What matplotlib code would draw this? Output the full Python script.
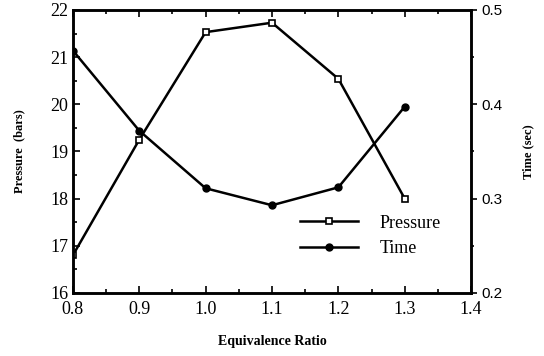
import matplotlib.pyplot as plt
from matplotlib.ticker import MultipleLocator

# equivalence ratio vs pressure and time
ratio = [0.8, 0.9, 1.0, 1.1, 1.2, 1.3]
pressure = [16.8, 19.25, 21.53, 21.73, 20.54, 18.0]
time_sec = [0.457, 0.372, 0.311, 0.293, 0.312, 0.3975]

serif = 'Liberation Serif'
sans = 'Liberation Sans'

fig = plt.figure(figsize=(5.44, 3.56), dpi=100)
ax = fig.add_axes([0.134, 0.177, 0.732, 0.795])
ax2 = ax.twinx()

l1, = ax.plot(ratio, pressure, color='black', lw=1.8, marker='s', ms=5,
              mfc='white', mec='black', mew=1.2, label='Pressure')
l2, = ax2.plot(ratio, time_sec, color='black', lw=1.8, marker='o', ms=5,
               mfc='black', mec='black', label='Time')

ax.set_xlim(0.8, 1.4)
ax.set_ylim(16, 22)
ax2.set_ylim(0.2, 0.5)

ax.xaxis.set_major_locator(MultipleLocator(0.1))
ax.xaxis.set_minor_locator(MultipleLocator(0.05))
ax.yaxis.set_major_locator(MultipleLocator(1))
ax.yaxis.set_minor_locator(MultipleLocator(0.5))
ax2.yaxis.set_major_locator(MultipleLocator(0.1))
ax2.yaxis.set_minor_locator(MultipleLocator(0.05))

ax.tick_params(axis='x', which='both', direction='in', top=True, width=1.2)
ax.tick_params(axis='x', which='major', length=5, pad=6)
ax.tick_params(axis='x', which='minor', length=3)
ax.tick_params(axis='y', which='both', direction='in', width=1.2)
ax.tick_params(axis='y', which='major', length=5)
ax.tick_params(axis='y', which='minor', length=3)
ax2.tick_params(axis='y', which='both', direction='out', width=1.2)
ax2.tick_params(axis='y', which='major', length=4)
ax2.tick_params(axis='y', which='minor', length=2)

ax.set_xticklabels([f'{v:.1f}' for v in ax.get_xticks()])
for lab in ax.get_xticklabels() + ax.get_yticklabels():
    lab.set_fontfamily(serif)
    lab.set_fontsize(13)
for lab in ax2.get_yticklabels():
    lab.set_fontfamily(sans)
    lab.set_fontsize(11)

for sp in ax.spines.values():
    sp.set_linewidth(1.8)
for sp in ax2.spines.values():
    sp.set_linewidth(1.8)

ax.set_xlabel('Equivalence Ratio', fontfamily=serif, fontsize=10,
              fontweight='bold', labelpad=12)
ax.set_ylabel('Pressure  (bars)', fontfamily=serif, fontsize=9,
              fontweight='bold', labelpad=18)
ax2.set_ylabel('Time (sec)', fontfamily=serif, fontsize=9,
               fontweight='bold', labelpad=14)

ax.legend(handles=[l1, l2], loc='lower right', bbox_to_anchor=(0.965, 0.07),
          frameon=False, prop={'family': serif, 'size': 13},
          handlelength=3.2, handletextpad=1.2, labelspacing=0.45)

fig.savefig('out.png', dpi=100)
